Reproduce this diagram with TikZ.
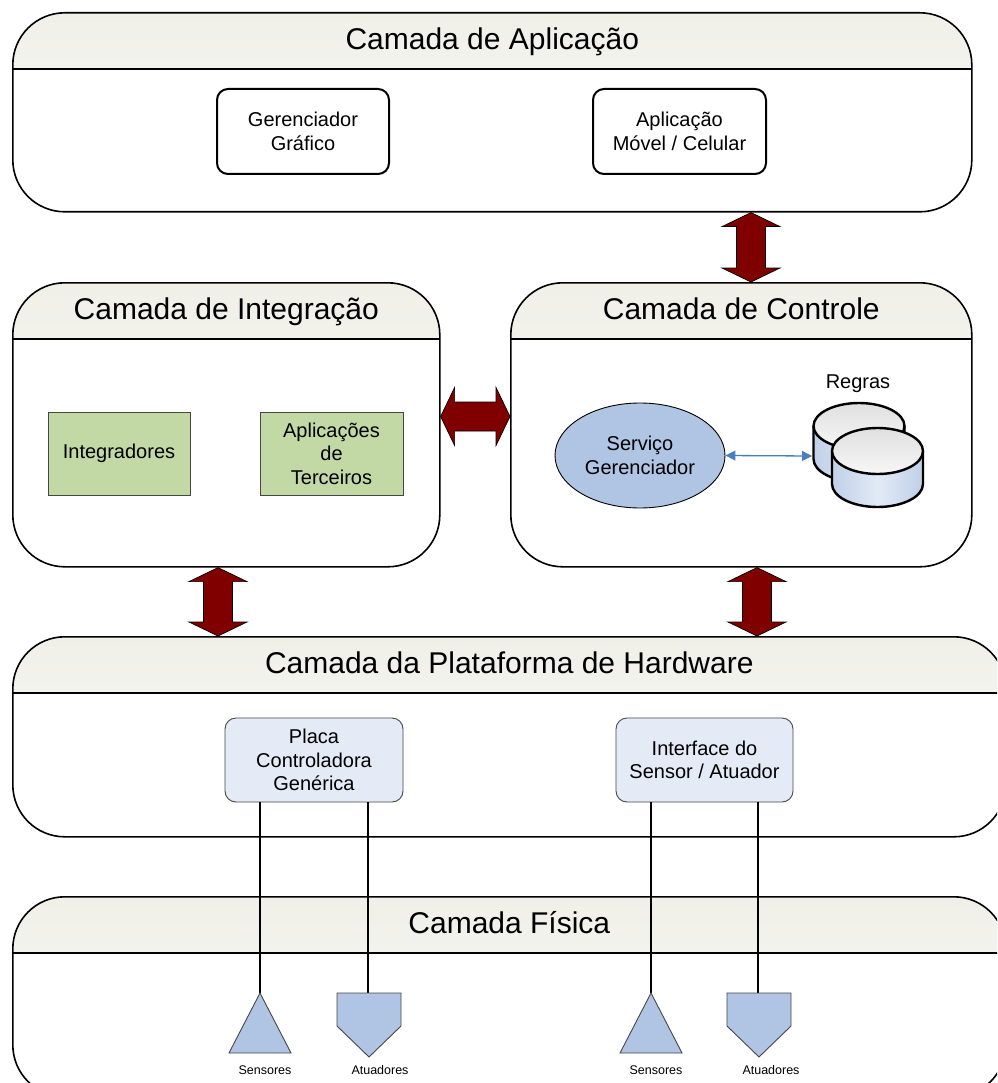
\documentclass[tikz,border=0pt]{standalone}
\usepackage{fontspec}
\setmainfont{Liberation Sans}
\usetikzlibrary{calc,shapes.geometric,arrows.meta}
\definecolor{hdtop}{RGB}{240,240,233}
\definecolor{hdbot}{RGB}{251,251,248}
\definecolor{darkred}{RGB}{128,0,0}
\definecolor{greenbox}{RGB}{194,217,166}
\definecolor{bluefill}{RGB}{176,196,228}
\definecolor{hwfill}{RGB}{228,235,246}
\definecolor{linkblue}{RGB}{74,126,191}
\definecolor{cylside}{RGB}{192,208,232}
\definecolor{cylmid}{RGB}{226,234,246}
\definecolor{cyltop}{RGB}{224,224,224}
\definecolor{cyltop2}{RGB}{247,247,247}
\definecolor{boxedge}{RGB}{70,70,70}

\newcommand\blockarrow[2]{%
  \path ($(#1)!14pt!(#2)$) coordinate (ba1) ($(#2)!14pt!(#1)$) coordinate (ba2);
  \draw[blockarr] (#1) -- ($(ba1)!29pt!90:(#2)$) -- ($(ba1)!14.5pt!90:(#2)$)
    -- ($(ba2)!14.5pt!-90:(#1)$) -- ($(ba2)!29pt!-90:(#1)$) -- (#2)
    -- ($(ba2)!29pt!90:(#1)$) -- ($(ba2)!14.5pt!90:(#1)$)
    -- ($(ba1)!14.5pt!-90:(#2)$) -- ($(ba1)!29pt!-90:(#2)$) -- cycle;}

\newcommand\dbcyl[3]{%
  \shade[left color=cylside, right color=cylside, middle color=cylmid]
    (#1-45.5,#2) -- (#1-45.5,#3) arc[start angle=180, end angle=0, x radius=45.5, y radius=23] -- (#1+45.5,#2) -- cycle;
  \draw[line width=2.4pt]
    (#1-45.5,#2) -- (#1-45.5,#3) arc[start angle=180, end angle=0, x radius=45.5, y radius=23] -- (#1+45.5,#2);
  \shade[top color=cyltop, bottom color=cyltop2] (#1,#2) ellipse [x radius=45.5, y radius=23];
  \draw[line width=2.4pt] (#1,#2) ellipse [x radius=45.5, y radius=23];}

\begin{document}
\begin{tikzpicture}[x=1pt,y=-1pt,
  layer/.style={draw, line width=1.6pt, rounded corners=52pt, inner sep=0pt, anchor=north west,
    path picture={
      \shade[sharp corners, top color=hdtop, bottom color=hdbot]
        (path picture bounding box.north west) rectangle ([yshift=-56pt]path picture bounding box.north east);
      \draw[sharp corners, line width=1.6pt]
        ([yshift=-56pt]path picture bounding box.north west) -- ([yshift=-56pt]path picture bounding box.north east);}},
  ttl/.style={font=\fontsize{30}{36}\selectfont, anchor=base, inner sep=0pt},
  txt/.style={font=\fontsize{20}{23.5}\selectfont, align=center},
  smalltxt/.style={font=\fontsize{12.5}{15}\selectfont, inner sep=0pt},
  appbox/.style={txt, draw, line width=2pt, rounded corners=11pt, minimum width=172pt, minimum height=85pt},
  greenbox/.style={txt, draw=boxedge, line width=0.9pt, fill=greenbox, minimum width=142pt, minimum height=83pt, inner sep=2pt},
  hwbox/.style={txt, draw=boxedge, line width=0.9pt, fill=hwfill, rounded corners=11pt, minimum width=177pt, minimum height=84pt, inner sep=2pt},
  blockarr/.style={fill=darkred, draw=black, line width=0.7pt, line join=miter},
  wire/.style={line width=1.5pt},
  dev/.style={fill=bluefill, draw=boxedge, line width=0.9pt, line join=miter}]

\useasboundingbox (0,0) rectangle (997,1083);
\fill[white] (0,0) rectangle (997,1083);
\clip (0,0) rectangle (997,1083);

% layers
\node[layer, minimum width=959pt, minimum height=199pt] (app) at (12,12) {};
\node[layer, minimum width=427pt, minimum height=284pt] (integ) at (12,282) {};
\node[layer, minimum width=461pt, minimum height=284pt] (ctrl) at (510,282) {};
\node[layer, minimum width=993pt, minimum height=200pt] (hw) at (12,636) {};
\node[layer, minimum width=993pt, minimum height=200pt] (phys) at (12,896) {};

\node[ttl] (appT) at ([yshift=-38pt]app.north) {Camada de Aplicação};
\node[ttl] (integT) at ([yshift=-37.5pt]integ.north) {Camada de Integração};
\node[ttl] (ctrlT) at ([yshift=-37.5pt]ctrl.north) {Camada de Controle};
\node[ttl] (hwT) at ([yshift=-37.5pt]hw.north) {Camada da Plataforma de Hardware};
\node[ttl] (physT) at ([yshift=-37.5pt]phys.north) {Camada Física};

% block arrows between layers
\coordinate (acx) at (751,0);
\coordinate (ihx) at (218,0);
\coordinate (chx) at (757,0);
\coordinate (icy) at (0,416.5);
\coordinate (acA) at (app.south -| acx);
\coordinate (acB) at (ctrl.north -| acx);
\blockarrow{acA}{acB}
\coordinate (icA) at (integ.east |- icy);
\coordinate (icB) at (ctrl.west |- icy);
\blockarrow{icA}{icB}
\coordinate (ihA) at (integ.south -| ihx);
\coordinate (ihB) at (hw.north -| ihx);
\blockarrow{ihA}{ihB}
\coordinate (chA) at (ctrl.south -| chx);
\coordinate (chB) at (hw.north -| chx);
\blockarrow{chA}{chB}

% application layer
\node[appbox] (gg) at (303,131.5) {Gerenciador\\Gráfico};
\node[appbox, minimum width=173pt] (amc) at (679.5,131.5) {Aplicação\\Móvel / Celular};

% integration layer
\node[greenbox] (intg) at (119,453.5) {Integradores};
\node[greenbox, minimum width=143pt] (apt) at (331.5,453.5) {Aplicações\\de\\Terceiros};

% control layer
\node[txt, ellipse, draw, line width=0.9pt, fill=bluefill, minimum width=170pt, minimum height=105pt, inner sep=0pt] (sg) at (640,455.5) {Serviço\\Gerenciador};
\node[txt, inner sep=0pt] (regras) at (858,384) {Regras};
\dbcyl{859}{426}{459}
\dbcyl{877.5}{451}{484}
\coordinate (cylL) at (812,456);
\draw[linkblue, line width=1.3pt, {Triangle[length=10pt,width=10pt]}-{Triangle[length=10pt,width=10pt]}] (sg.east) -- (cylL);

% hardware layer
\node[hwbox, minimum width=178pt] (pcg) at (314,760) {Placa\\Controladora\\Genérica};
\node[hwbox] (isa) at (704.5,760) {Interface do\\Sensor / Atuador};

% physical devices
\coordinate (s1) at (260,993);
\coordinate (a1) at (368,993);
\coordinate (s2) at (651,993);
\coordinate (a2) at (758,993);
\draw[wire] (pcg.south -| s1) -- (s1);
\draw[wire] (pcg.south -| a1) -- (a1);
\draw[wire] (isa.south -| s2) -- (s2);
\draw[wire] (isa.south -| a2) -- (a2);

\draw[dev] (s1) -- ++(31,60) -- ++(-62,0) -- cycle;
\draw[dev] ([xshift=-31pt]a1) -- ++(64,0) -- ++(0,33) -- ++(-32,31) -- ++(-32,-31) -- cycle;
\draw[dev] (s2) -- ++(31,60) -- ++(-62,0) -- cycle;
\draw[dev] ([xshift=-31pt]a2) -- ++(64,0) -- ++(0,33) -- ++(-32,31) -- ++(-32,-31) -- cycle;

\node[smalltxt] (ls1) at (265,1070) {Sensores};
\node[smalltxt] (la1) at (380,1070) {Atuadores};
\node[smalltxt] (ls2) at (656,1070) {Sensores};
\node[smalltxt] (la2) at (771,1070) {Atuadores};

\end{tikzpicture}
\end{document}
